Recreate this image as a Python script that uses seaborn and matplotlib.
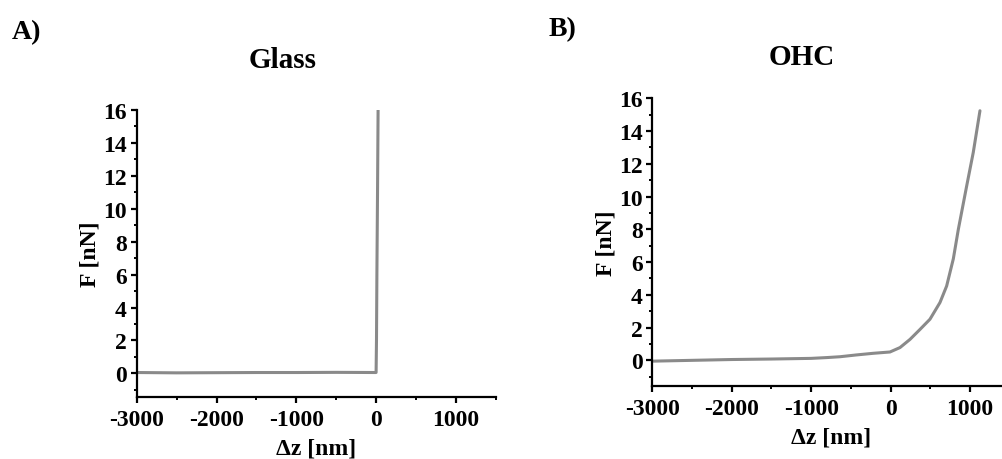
"""Force-distance curves: glass vs OHC (two panels)."""
import matplotlib
matplotlib.use("Agg")
import matplotlib.pyplot as plt
import pandas as pd
import seaborn as sns
from matplotlib.ticker import MultipleLocator

# ---------------------------------------------------------------------------
# Data
# ---------------------------------------------------------------------------
glass_dz = [-3000, -2500, -2000, -1500, -1000, -500, 0, 5, 10, 18, 25]
glass_f = [0.05, 0.03, 0.04, 0.05, 0.05, 0.06, 0.05, 2.0, 6.0, 11.0, 16.0]

ohc_dz = [-3000, -2500, -2000, -1500, -1000, -800, -638, -431, -219, -9,
          117, 243, 369, 494, 620, 704, 788, 851, 956, 1039, 1123]
ohc_f = [-0.05, 0.0, 0.05, 0.08, 0.12, 0.17, 0.22, 0.33, 0.43, 0.51,
         0.78, 1.28, 1.89, 2.51, 3.53, 4.54, 6.2, 8.0, 10.65, 12.7, 15.24]

panel_titles = ["Glass", "OHC"]
panel_letters = ["A)", "B)"]
x_ticks = [-3000, -2000, -1000, 0, 1000]
y_ticks = [0, 2, 4, 6, 8, 10, 12, 14, 16]

LINE_COLOR = "#8a8a8a"

sns.set_style("ticks")
plt.rcParams["font.family"] = ["Liberation Serif", "DejaVu Serif"]
plt.rcParams["font.weight"] = "bold"
plt.rcParams["axes.linewidth"] = 1.6
plt.rcParams["axes.unicode_minus"] = False
# plain black text / spines like the original figure
for key in ("text.color", "axes.labelcolor", "axes.edgecolor",
            "xtick.color", "ytick.color"):
    plt.rcParams[key] = "black"

fig = plt.figure(figsize=(10.03, 4.60), dpi=100)
ax_a = fig.add_axes([0.1363, 0.1354, 0.358, 0.6233])
ax_b = fig.add_axes([0.6503, 0.1593, 0.3566, 0.6248])

curves = [pd.DataFrame({"dz": glass_dz, "F": glass_f}),
          pd.DataFrame({"dz": ohc_dz, "F": ohc_f})]
ylims = [(-1.42, 16), (-1.55, 16)]

for ax, df, ylim in zip([ax_a, ax_b], curves, ylims):
    sns.lineplot(data=df, x="dz", y="F", ax=ax, color=LINE_COLOR,
                 linewidth=2.2, sort=False, estimator=None)
    ax.set_xlim(-3000, 1500)
    ax.set_ylim(*ylim)
    ax.set_xticks(x_ticks)
    ax.set_yticks(y_ticks)
    ax.xaxis.set_minor_locator(MultipleLocator(500))
    ax.yaxis.set_minor_locator(MultipleLocator(1))
    ax.tick_params(which="major", direction="out", length=4, width=1.6,
                   labelsize=17)
    ax.tick_params(which="minor", direction="out", length=2.5, width=1.4)
    ax.tick_params(axis="x", which="major", pad=5)
    ax.tick_params(axis="y", which="major", pad=3)
    for lbl in ax.get_xticklabels() + ax.get_yticklabels():
        lbl.set_fontweight("bold")
    ax.set_xlabel("Δz [nm]", fontsize=17, fontweight="bold", labelpad=5)
    ax.set_ylabel("F [nN]", fontsize=17, fontweight="bold", labelpad=2)
    sns.despine(ax=ax)

# Titles and panel letters
fig.text(283 / 1003, 1 - 60 / 460, panel_titles[0], ha="center", va="center",
         fontsize=21, fontweight="bold")
fig.text(802 / 1003, 1 - 58 / 460, panel_titles[1], ha="center", va="center",
         fontsize=21, fontweight="bold")
fig.text(12 / 1003, 1 - 33 / 460, panel_letters[0], ha="left", va="center",
         fontsize=20, fontweight="bold")
fig.text(549 / 1003, 1 - 30 / 460, panel_letters[1], ha="left", va="center",
         fontsize=20, fontweight="bold")

fig.savefig("out.png", dpi=100)
plt.close(fig)
